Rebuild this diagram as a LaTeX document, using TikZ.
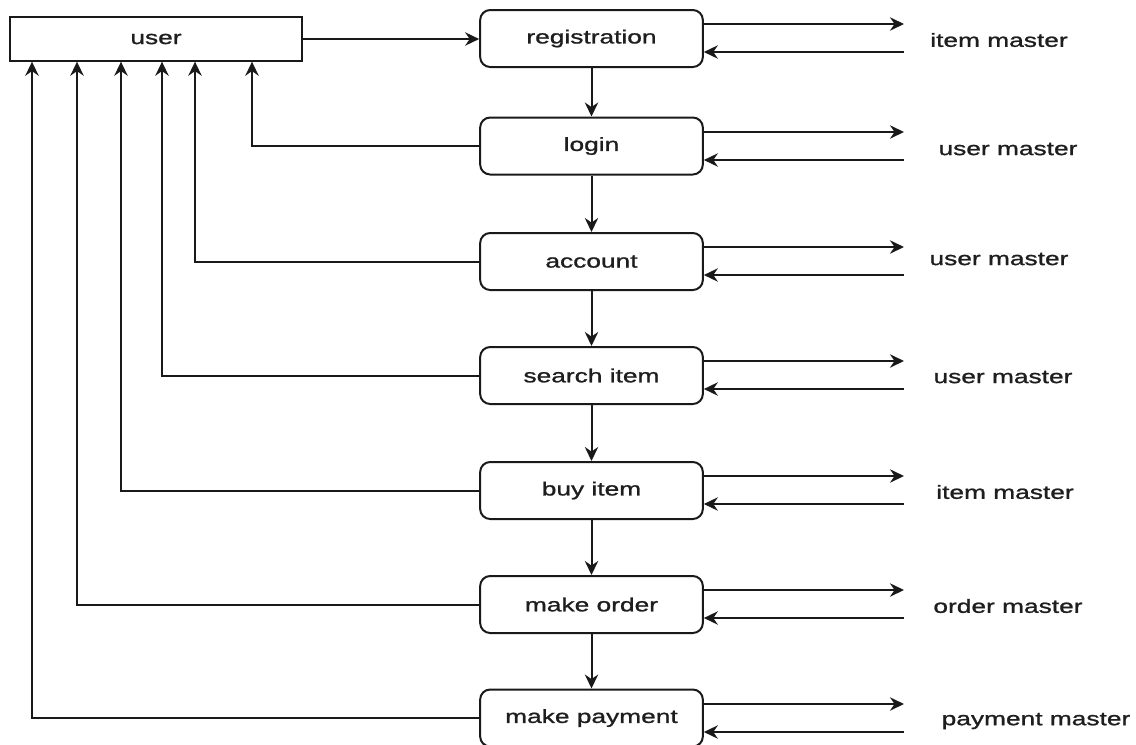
\documentclass[tikz,border=0pt]{standalone}
\usepackage{fontspec}
\setmainfont{Liberation Sans}[FakeStretch=1.38, FakeBold=1.2]
\usepackage{tikz}
\usetikzlibrary{arrows.meta, calc}
\definecolor{linecolor}{RGB}{25,25,25}
\definecolor{textcolor}{RGB}{30,30,30}

\begin{document}
\begin{tikzpicture}[
    x=0.75pt, y=-0.75pt,
    proc/.style={draw=linecolor, line width=1.5pt, rounded corners=7.5pt, minimum width=167pt, minimum height=42.75pt, font=\fontsize{14.3}{17}\selectfont, text=textcolor},
    ent/.style={draw=linecolor, line width=1.5pt, minimum width=219pt, minimum height=32.5pt, font=\fontsize{14.3}{17}\selectfont, text=textcolor},
    store/.style={font=\fontsize{14.3}{17}\selectfont, text=textcolor},
    arr/.style={draw=linecolor, line width=1.5pt, -{Stealth[length=10.5pt, width=10pt]}}
]
    \useasboundingbox (0,0) rectangle (1136,744);

    % External entity
    \node[ent] (user) at (156,39) {user};

    % Process chain
    \node[proc] (reg) at (591.5,38.5) {registration};
    \node[proc] (login) at (591.5,146) {login};
    \node[proc] (acc) at (591.5,261.5) {account};
    \node[proc] (search) at (591.5,375.5) {search item};
    \node[proc] (buy) at (591.5,490.5) {buy item};
    \node[proc] (order) at (591.5,604.5) {make order};
    \node[proc] (pay) at (591.5,718) {make payment};

    % Data stores
    \node[store] (m1) at (999,40) {item master};
    \node[store] (m2) at (1008,149) {user master};
    \node[store] (m3) at (999,259) {user master};
    \node[store] (m4) at (1003,377) {user master};
    \node[store] (m5) at (1005,492) {item master};
    \node[store] (m6) at (1008,606) {order master};
    \node[store] (m7) at (1036,721) {payment master};

    % Flow down the chain
    \draw[arr] (user.east) -- (reg.west |- user.east);
    \draw[arr] (reg) -- (login);
    \draw[arr] (login) -- (acc);
    \draw[arr] (acc) -- (search);
    \draw[arr] (search) -- (buy);
    \draw[arr] (buy) -- (order);
    \draw[arr] (order) -- (pay);

    % Returns to user
    \coordinate (u1) at ($(user.south west)+(243,0)$);
    \coordinate (u2) at ($(user.south west)+(186,0)$);
    \coordinate (u3) at ($(user.south west)+(153,0)$);
    \coordinate (u4) at ($(user.south west)+(112,0)$);
    \coordinate (u5) at ($(user.south west)+(68,0)$);
    \coordinate (u6) at ($(user.south west)+(23,0)$);
    \draw[arr] (login.west) -| (u1);
    \draw[arr] (acc.west) -| (u2);
    \draw[arr] (search.west) -| (u3);
    \draw[arr] (buy.west) -| (u4);
    \draw[arr] (order.west) -| (u5);
    \draw[arr] (pay.west) -| (u6);

    % Reads and writes on the right
    \coordinate (o1) at (904,24);  \coordinate (i1) at (904,52);
    \coordinate (o2) at (904,132); \coordinate (i2) at (904,160);
    \coordinate (o3) at (904,247); \coordinate (i3) at (904,275);
    \coordinate (o4) at (904,361); \coordinate (i4) at (904,389);
    \coordinate (o5) at (904,476); \coordinate (i5) at (904,504);
    \coordinate (o6) at (904,590); \coordinate (i6) at (904,618);
    \coordinate (o7) at (904,704); \coordinate (i7) at (904,732);
    \draw[arr] (reg.east |- o1) -- (o1);    \draw[arr] (i1) -- (reg.east |- i1);
    \draw[arr] (login.east |- o2) -- (o2);  \draw[arr] (i2) -- (login.east |- i2);
    \draw[arr] (acc.east |- o3) -- (o3);    \draw[arr] (i3) -- (acc.east |- i3);
    \draw[arr] (search.east |- o4) -- (o4); \draw[arr] (i4) -- (search.east |- i4);
    \draw[arr] (buy.east |- o5) -- (o5);    \draw[arr] (i5) -- (buy.east |- i5);
    \draw[arr] (order.east |- o6) -- (o6);  \draw[arr] (i6) -- (order.east |- i6);
    \draw[arr] (pay.east |- o7) -- (o7);    \draw[arr] (i7) -- (pay.east |- i7);
\end{tikzpicture}
\end{document}
